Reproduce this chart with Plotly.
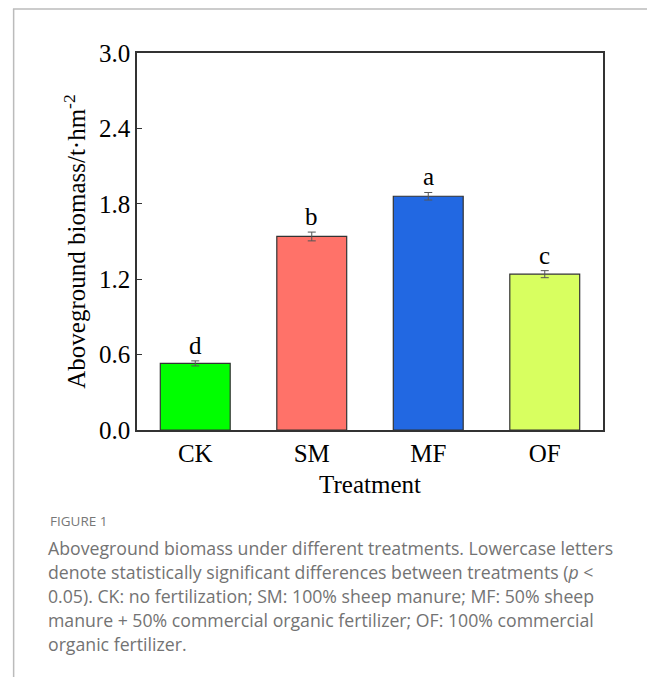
import plotly.graph_objects as go

categories = ["CK", "SM", "MF", "OF"]
biomass = [0.53, 1.54, 1.86, 1.24]
errors = [0.02, 0.035, 0.03, 0.028]
letters = ["d", "b", "a", "c"]
bar_colors = ["#00FF00", "#FF7269", "#2268E2", "#D8FF60"]
y_ticks = [0.0, 0.6, 1.2, 1.8, 2.4, 3.0]

caption_title = "FIGURE 1"
caption_lines = [
    "Aboveground biomass under different treatments. Lowercase letters",
    "denote statistically significant differences between treatments (<i>p</i> <",
    "0.05). CK: no fertilization; SM: 100% sheep manure; MF: 50% sheep",
    "manure + 50% commercial organic fertilizer; OF: 100% commercial",
    "organic fertilizer.",
]

OFF = 8  # page body margin
W, H = 655 - OFF, 677 - OFF
L, R, T, B = 136.5 - OFF, 603 - OFF, 53 - OFF, 430 - OFF

def px(x):
    return (x - OFF - L) / (R - L)

def py(y):
    return (B - (y - OFF)) / (B - T)

serif = "Liberation Serif, Times New Roman, serif"
FS = 25

fig = go.Figure()
fig.add_trace(go.Bar(
    x=categories, y=biomass, width=0.6,
    marker=dict(color=bar_colors, line=dict(color="#333333", width=1.2)),
    error_y=dict(type="data", array=errors, visible=True, color="#555555",
                 thickness=1, width=4),
    showlegend=False,
))

for c, v, e, t in zip(categories, biomass, errors, letters):
    fig.add_annotation(x=c, y=v + e, text=t, showarrow=False, yanchor="bottom",
                       yshift=0, font=dict(family=serif, size=FS, color="black"))

fig.add_annotation(xref="paper", yref="paper", x=px(47), y=py(521), text=caption_title,
                   showarrow=False, xanchor="left", yanchor="middle",
                   font=dict(family="Open Sans, sans-serif", size=13.5, color="#777777"))
line_y = [548, 572, 596, 620, 644]
for yy, line in zip(line_y, caption_lines):
    fig.add_annotation(xref="paper", yref="paper", x=px(45), y=py(yy), text=line,
                       showarrow=False, xanchor="left", yanchor="middle",
                       font=dict(family="Open Sans, sans-serif", size=17.7, color="#737373"))

# card frame
fig.add_shape(type="line", xref="paper", yref="paper", x0=px(12.3), x1=px(670), y0=py(9), y1=py(9),
              line=dict(color="#BBBBBB", width=1.5))
fig.add_shape(type="line", xref="paper", yref="paper", x0=px(13), x1=px(13), y0=py(9), y1=py(690),
              line=dict(color="#BBBBBB", width=1.5))

fig.update_layout(
    width=W, height=H,
    margin=dict(l=L, r=W - R, t=T, b=H - B),
    plot_bgcolor="white", paper_bgcolor="white",
    bargap=0.4,
    font=dict(family=serif, color="black"),
)
fig.update_xaxes(
    showline=True, linecolor="#333333", linewidth=1.5, mirror=True,
    ticks="", tickfont=dict(family=serif, size=FS, color="black"),
    title=dict(text="Treatment", font=dict(family=serif, size=FS, color="black"), standoff=10),
    showgrid=False,
)
fig.update_yaxes(
    range=[0, 3.0], tickvals=y_ticks, ticktext=[f"{v:.1f}" for v in y_ticks],
    showline=True, linecolor="#333333", linewidth=1.5, mirror=True,
    ticks="inside", ticklen=5, tickcolor="#333333", tickwidth=1.2,
    tickfont=dict(family=serif, size=FS, color="black"),
    title=dict(text="Aboveground biomass/t·hm<sup>-2</sup>",
               font=dict(family=serif, size=FS, color="black"), standoff=6),
    showgrid=False, zeroline=False,
)

fig.write_html("out.html")
